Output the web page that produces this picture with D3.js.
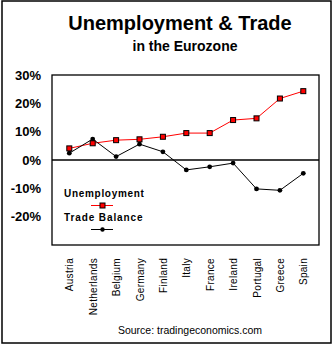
<!DOCTYPE html>
<html><head><meta charset="utf-8">
<script src="https://cdn.jsdelivr.net/npm/d3@7"></script>
<style>body{margin:0;background:#fff}svg{display:block}text{font-family:"Liberation Sans",Arial,sans-serif}</style>
</head><body>
<script>
const countries = ["Austria","Netherlands","Belgium","Germany","Finland","Italy","France","Ireland","Portugal","Greece","Spain"];
const unemployment = [4.1, 5.9, 7.0, 7.3, 8.2, 9.5, 9.5, 14.1, 14.7, 21.7, 24.3];
const tradeBalance = [2.4, 7.4, 1.2, 5.6, 2.9, -3.5, -2.4, -1.1, -10.2, -10.7, -4.7];
const yTicks = [30, 20, 10, 0, -10, -20];

const W = 334, H = 347;
const svg = d3.select("body").append("svg").attr("width", W).attr("height", H);

svg.append("rect").attr("x", 2).attr("y", 1).attr("width", 329).attr("height", 342)
  .attr("fill", "#fff").attr("stroke", "#000").attr("stroke-width", 1.5);

svg.append("text").attr("x", 180).attr("y", 30).attr("text-anchor", "middle")
  .attr("font-size", 20).attr("font-weight", "bold").text("Unemployment & Trade");
svg.append("text").attr("x", 185).attr("y", 51).attr("text-anchor", "middle")
  .attr("font-size", 14).attr("font-weight", "bold").text("in the Eurozone");

const plot = {left: 52, right: 319, top: 75, bottom: 245};
const y = d3.scaleLinear().domain([-30, 30]).range([plot.bottom, plot.top]);
const x = d3.scalePoint().domain(countries).range([69.3, 303.3]);

svg.append("rect").attr("x", plot.left).attr("y", plot.top)
  .attr("width", plot.right - plot.left).attr("height", plot.bottom - plot.top)
  .attr("fill", "none").attr("stroke", "#000").attr("stroke-width", 1.3);

// y axis labels
const yAxis = d3.axisLeft(y).tickValues(yTicks).tickSize(0).tickPadding(11)
  .tickFormat(d => d + "%");
const gy = svg.append("g").attr("transform", `translate(${plot.left},0)`).call(yAxis);
gy.select(".domain").remove();
gy.selectAll("text").attr("font-size", 13).attr("font-weight", "bold")
  .attr("font-family", "Liberation Sans, Arial, sans-serif").attr("fill", "#000");

// zero line
svg.append("line").attr("x1", plot.left).attr("x2", plot.right)
  .attr("y1", y(0)).attr("y2", y(0)).attr("stroke", "#000").attr("stroke-width", 1.3);

// x labels
const xAxis = d3.axisBottom(x).tickSize(0).tickPadding(0);
const gx = svg.append("g").attr("transform", `translate(0,${plot.bottom})`).call(xAxis);
gx.select(".domain").remove();
gx.selectAll("text").attr("font-size", 10).attr("font-family", "Liberation Sans, Arial, sans-serif")
  .attr("fill", "#000").attr("letter-spacing", 0.3)
  .attr("transform", "rotate(-90)").attr("text-anchor", "end")
  .attr("x", -13).attr("y", 0).attr("dy", "0.35em");

// lines
const line = d3.line().x((d, i) => x(countries[i])).y(d => y(d));
svg.append("path").datum(unemployment).attr("d", line).attr("fill", "none")
  .attr("stroke", "#ff0000").attr("stroke-width", 1);
svg.append("path").datum(tradeBalance).attr("d", line).attr("fill", "none")
  .attr("stroke", "#000").attr("stroke-width", 1);

svg.append("g").selectAll("circle").data(tradeBalance).join("circle")
  .attr("cx", (d, i) => x(countries[i])).attr("cy", d => y(d)).attr("r", 2.4).attr("fill", "#000");
svg.append("g").selectAll("rect").data(unemployment).join("rect")
  .attr("x", (d, i) => x(countries[i]) - 2.5).attr("y", d => y(d) - 2.5)
  .attr("width", 5).attr("height", 5).attr("fill", "#ff0000").attr("stroke", "#000").attr("stroke-width", 1);

// legend
const lg = svg.append("g");
lg.append("text").attr("x", 64).attr("y", 197).attr("font-size", 10).attr("font-weight", "bold")
  .attr("letter-spacing", 0.7).text("Unemployment");
lg.append("line").attr("x1", 91).attr("x2", 113).attr("y1", 205.5).attr("y2", 205.5)
  .attr("stroke", "#ff0000").attr("stroke-width", 1);
lg.append("rect").attr("x", 100).attr("y", 203).attr("width", 5).attr("height", 5)
  .attr("fill", "#ff0000").attr("stroke", "#000").attr("stroke-width", 1);
lg.append("text").attr("x", 64).attr("y", 221).attr("font-size", 10).attr("font-weight", "bold")
  .attr("letter-spacing", 0.9).text("Trade Balance");
lg.append("line").attr("x1", 91).attr("x2", 113).attr("y1", 229.5).attr("y2", 229.5)
  .attr("stroke", "#000").attr("stroke-width", 1);
lg.append("circle").attr("cx", 102.5).attr("cy", 229.5).attr("r", 2.2).attr("fill", "#000");

svg.append("text").attr("x", 190).attr("y", 334).attr("text-anchor", "middle")
  .attr("font-size", 10.5).text("Source: tradingeconomics.com");
</script>
</body></html>
